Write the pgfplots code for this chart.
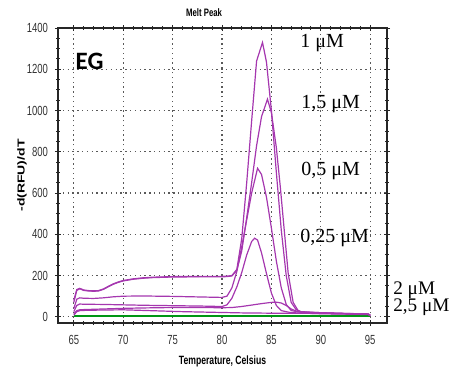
\documentclass[border=0pt]{standalone}
\usepackage{graphicx}
\usepackage{fontspec}
\setmainfont{Liberation Sans}
\newfontfamily\tnr{Liberation Serif}
\newfontfamily\carl{Carlito}
\usepackage{pgfplots}
\pgfplotsset{compat=1.18}
\definecolor{pur}{RGB}{165,55,175}
\definecolor{grn}{RGB}{0,150,20}
\newcommand{\sq}[1]{\scalebox{0.72}[1]{#1}}
\begin{document}
\begin{tikzpicture}
\begin{axis}[name=ax, scale only axis, width=164.5pt, height=147.5pt,
  xmin=63.4, xmax=96.7, ymin=-30, ymax=1400,
  xtick={65,70,...,95}, ytick={0,200,...,1400},
  minor x tick num=4, minor y tick num=3,
  tick align=center, major tick length=3pt, minor tick length=1.8pt,
  grid=major, major grid style={dash pattern=on 0.7pt off 1.7pt, gray!70!black, line width=0.6pt},
  axis line style={black!85, line width=0.7pt},
  tick style={black!85, line width=0.5pt},
  /pgf/number format/assume math mode=true,
  /pgf/number format/set thousands separator={},
  xticklabel={\sq{\pgfmathprintnumber{\tick}}},
  yticklabel={\sq{\pgfmathprintnumber{\tick}}},
  ticklabel style={font=\fontsize{6.6}{7}\selectfont, text=black!80},
  xticklabel style={yshift=-1pt},
  xlabel={\sq{Temperature, Celsius}}, xlabel style={font=\fontsize{6}{7}\selectfont\bfseries, at={(axis description cs:0.5,-0.129)}, anchor=center},
  ylabel={\scalebox{1}[0.72]{-d(RFU)/dT}}, ylabel style={font=\fontsize{7}{8}\selectfont\bfseries, at={(axis description cs:-0.109,0.5)}, anchor=center},
  clip=false,
  every axis plot/.append style={line width=0.6pt, mark=none},
]
% green (NTC)
\addplot[grn, line width=1.4pt] coordinates {(65,4) (70,4) (75,4) (80,4) (85,4) (90,4) (95,4)};
% 2,5 uM
\addplot[pur] coordinates {(65,8) (65.3,25) (65.6,30) (66,31) (68,33) (70,34) (72,31) (74,28) (76,25) (78,23) (80,21) (82,19) (84,18) (86,17) (88,17) (90,16) (93,14) (94.8,12) (95,6)};
% 2 uM
\addplot[pur] coordinates {(65,15) (65.3,30) (65.6,34) (66,35) (68,38) (70,41) (72,43) (75,45) (78,45) (80,44) (81,45) (82,50) (83,57) (84,64) (85,70) (85.5,71) (86,67) (86.5,55) (87,38) (87.6,26) (88.5,21) (90,19) (92,16) (94.8,13) (95,7)};
% 0,25 uM
\addplot[pur] coordinates {(65,25) (65.3,55) (65.6,62) (66,61) (68,60) (70,58) (72,56) (75,54) (78,52) (80,50) (80.5,58) (81,90) (81.5,145) (82,215) (82.5,300) (83,365) (83.3,381) (83.6,372) (84,310) (84.5,210) (85,115) (85.5,55) (86,30) (87,20) (90,15) (94.8,11) (95,6)};
% 0,5 uM
\addplot[pur] coordinates {(65,40) (65.3,85) (65.6,92) (66,90) (67,89) (68,92) (69,97) (70,100) (72,101) (75,99) (78,96) (80,94) (80.5,100) (81,140) (81.5,220) (82,340) (82.5,470) (83,600) (83.6,720) (84,690) (84.5,580) (85,430) (85.5,270) (86,140) (86.5,60) (87,30) (88,22) (90,18) (94.8,13) (95,7)};
% 1,5 uM
\addplot[pur] coordinates {(65,70) (65.3,128) (65.6,136) (66,128) (66.5,125) (67,124) (67.5,125) (68,133) (68.5,146) (69,158) (69.5,167) (70,174) (71,182) (72,187) (73,190) (75,193) (78,194) (80,194) (80.5,195) (81,198) (81.5,225) (82,320) (82.5,480) (83,650) (83.5,830) (84,970) (84.6,1055) (85,990) (85.5,820) (85.9,630) (86.3,420) (86.7,210) (87.2,70) (87.7,30) (88,24) (90,20) (92,17) (94.8,13) (95,7)};
% 1 uM
\addplot[pur] coordinates {(65,80) (65.3,132) (65.6,138) (66,130) (66.5,127) (67,126) (67.5,127) (68,135) (68.5,148) (69,160) (69.5,169) (70,176) (71,184) (72,189) (73,192) (75,195) (78,196) (80,196) (80.5,197) (81,200) (81.5,230) (82,380) (82.5,650) (83,950) (83.5,1240) (84.1,1330) (84.5,1235) (85,1000) (85.5,700) (86,420) (86.5,200) (87,70) (87.5,35) (88,25) (90,20) (92,17) (94.8,14) (95,8)};
% labels
\node[font=\fontsize{5.4}{6}\selectfont\bfseries] at (rel axis cs:0.444,1.051) {\sq{Melt Peak}};
\node[font=\carl\bfseries\fontsize{12.5}{14}\selectfont] at (axis cs:66.6,1240) {EG};
\node[anchor=west, inner sep=0pt, font=\tnr\fontsize{10}{12}\selectfont] at (axis cs:87.9,1327) {1 μM};
\node[anchor=west, inner sep=0pt, font=\tnr\fontsize{10}{12}\selectfont] at (axis cs:88.0,1032) {1,5 μM};
\node[anchor=west, inner sep=0pt, font=\tnr\fontsize{10}{12}\selectfont] at (axis cs:88.0,707) {0,5 μM};
\node[anchor=west, inner sep=0pt, font=\tnr\fontsize{10}{12}\selectfont] at (axis cs:87.9,383) {0,25 μM};
\node[anchor=west, inner sep=0pt, font=\tnr\fontsize{9.6}{11}\selectfont] at (axis cs:97.3,128) {2 μM};
\node[anchor=west, inner sep=0pt, font=\tnr\fontsize{9.6}{11}\selectfont] at (axis cs:97.3,46) {2,5 μM};
\end{axis}
\pgfresetboundingbox
\path ([shift={(-29pt,-26.5pt)}]ax.south west) rectangle ([shift={(199pt,161.5pt)}]ax.south west);
\end{tikzpicture}
\end{document}
